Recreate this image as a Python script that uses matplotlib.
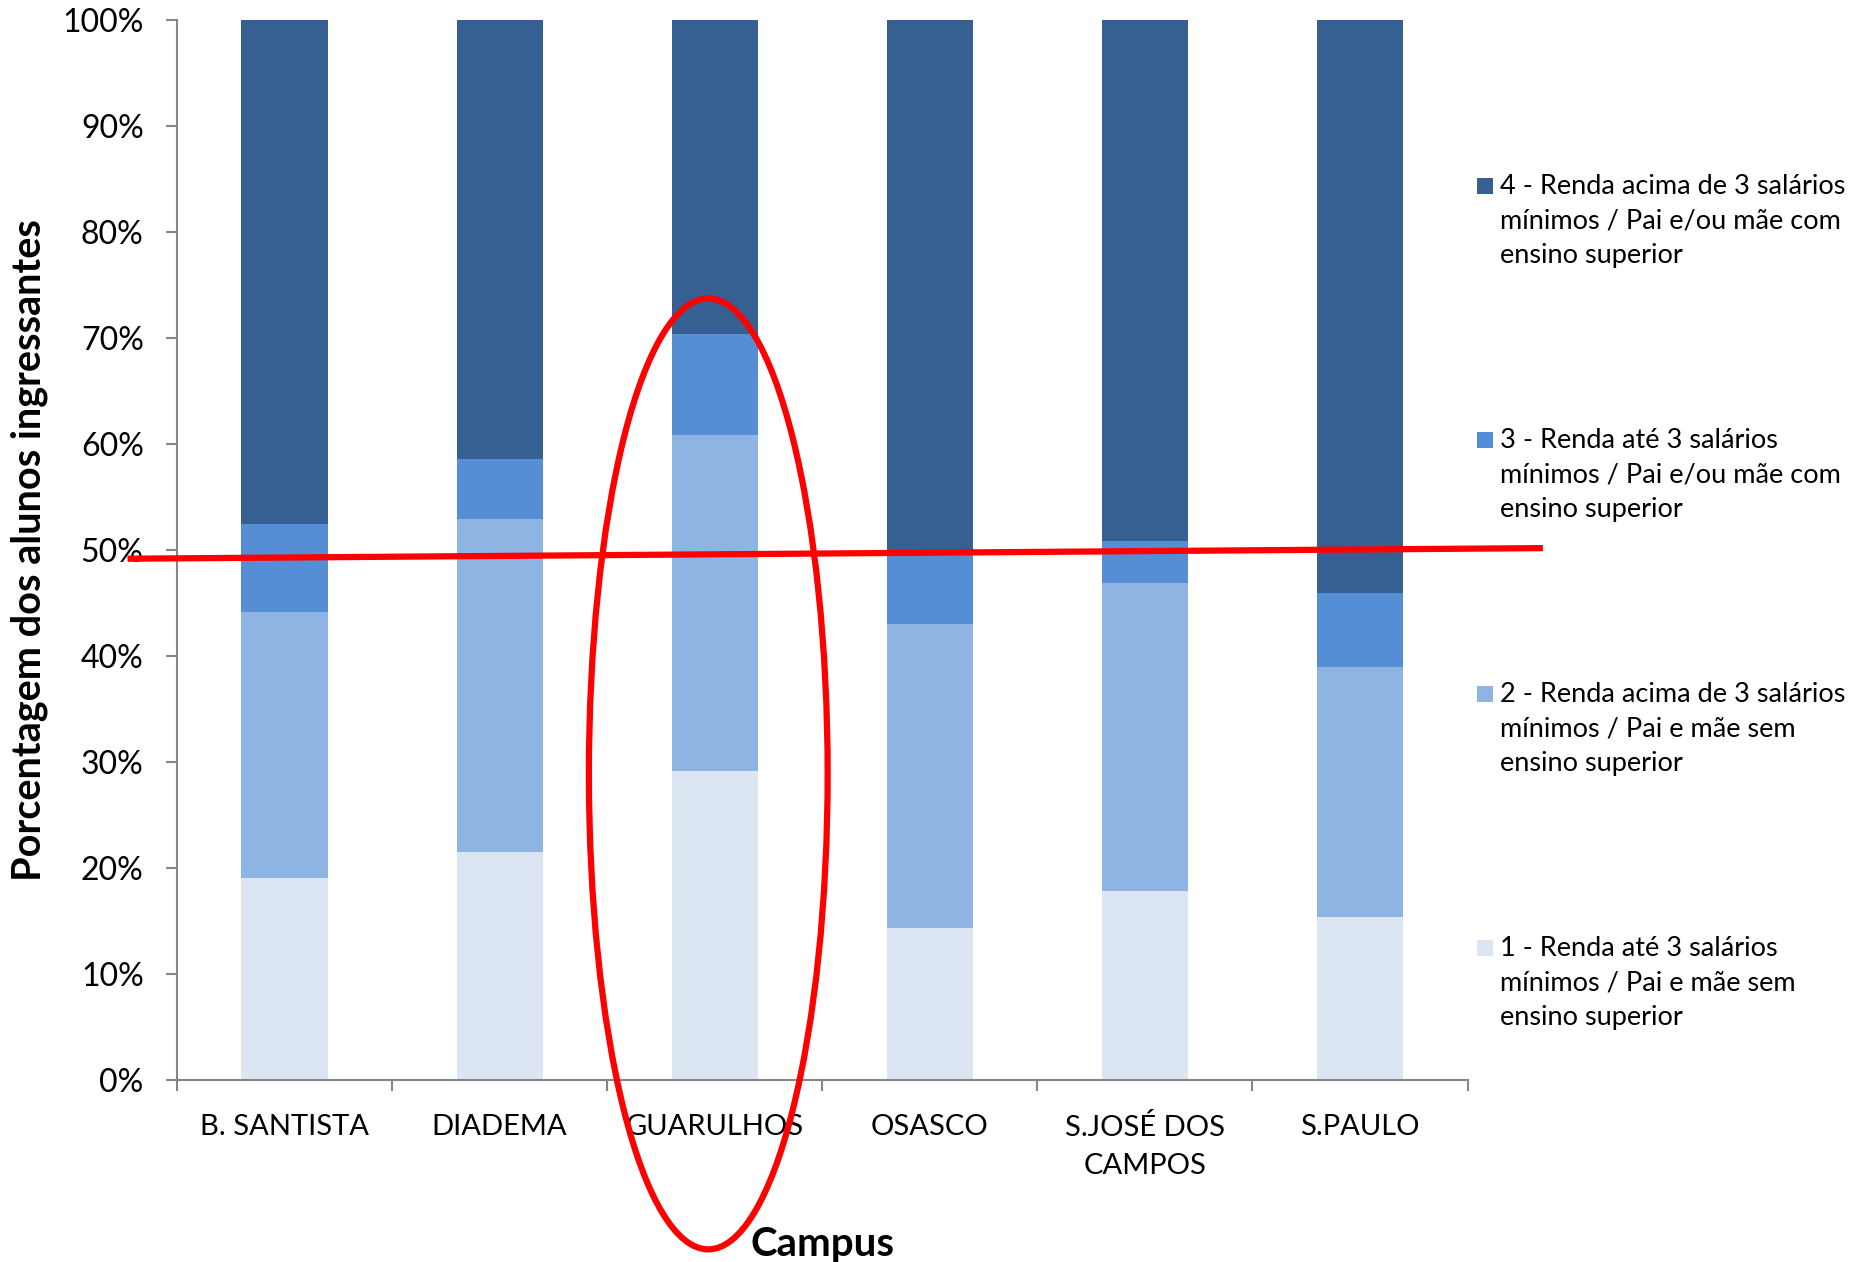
import matplotlib.pyplot as plt
from matplotlib.patches import Ellipse, Rectangle
from matplotlib.ticker import FuncFormatter, FixedLocator
import numpy as np

plt.rcParams['font.family'] = ['Lato', 'DejaVu Sans']

# dados (%, por faixa)
campus = ['B. SANTISTA', 'DIADEMA', 'GUARULHOS', 'OSASCO', 'S.JOSÉ DOS\nCAMPOS', 'S.PAULO']
faixa1 = [19.1, 21.5, 29.2, 14.4, 17.9, 15.4]
faixa2 = [25.1, 31.4, 31.7, 28.6, 29.0, 23.6]
faixa3 = [8.3, 5.7, 9.5, 6.8, 4.0, 7.0]
faixa4 = [47.5, 41.4, 29.6, 50.2, 49.1, 54.0]

legendas = ['1 - Renda até 3 salários\nmínimos / Pai e mãe sem\nensino superior',
            '2 - Renda acima de 3 salários\nmínimos / Pai e mãe sem\nensino superior',
            '3 - Renda até 3 salários\nmínimos / Pai e/ou mãe com\nensino superior',
            '4 - Renda acima de 3 salários\nmínimos / Pai e/ou mãe com\nensino superior']
cores = ['#DCE6F2', '#8EB4E3', '#558ED5', '#376092']

W, H = 1853, 1262
fig = plt.figure(figsize=(W / 100, H / 100), dpi=100)
ax = fig.add_axes([0.0955, 0.144, 0.6965, 0.840])

x = np.arange(len(campus))
base = np.zeros(len(campus))
for serie, cor in zip([faixa1, faixa2, faixa3, faixa4], cores):
    ax.bar(x, serie, bottom=base, width=0.4, color=cor, edgecolor='none')
    base += np.array(serie)

ax.set_xlim(-0.5, 5.5)
ax.set_ylim(0, 100)
ax.set_yticks(np.arange(0, 101, 10))
ax.yaxis.set_major_formatter(FuncFormatter(lambda v, p: '%d%%' % v))
ax.set_xticks(x)
ax.set_xticklabels(campus, linespacing=1.6)
ax.xaxis.set_minor_locator(FixedLocator(np.arange(-0.5, 6, 1)))

for s in ['top', 'right']:
    ax.spines[s].set_visible(False)
for s in ['left', 'bottom']:
    ax.spines[s].set_color('#868686')
    ax.spines[s].set_linewidth(1.5)

ax.tick_params(axis='y', direction='out', length=8, width=1.5, color='#868686',
               labelsize=23, pad=16)
ax.tick_params(axis='x', which='major', length=0, labelsize=21, pad=24)
ax.tick_params(axis='x', which='minor', direction='out', length=8, width=1.5, color='#868686')

ax.set_ylabel('Porcentagem dos alunos ingressantes', fontsize=28.5, fontweight='bold', labelpad=10)
ax.set_xlabel('Campus', fontsize=29, fontweight='bold', labelpad=34)

# legenda desenhada à mão (ordem invertida, espaçada como no original)
y_itens = [186, 440, 694, 948]  # px a partir do topo, primeira linha de cada item
for i, (txt, cor) in enumerate(zip(legendas[::-1], cores[::-1])):
    yc = y_itens[i]
    fig.patches.append(Rectangle((1477 / W, 1 - (yc + 8) / H), 16 / W, 16 / H,
                                 transform=fig.transFigure, facecolor=cor,
                                 edgecolor='none'))
    fig.text(1500 / W, 1 - (yc - 12) / H, txt, fontsize=19.5, va='top', ha='left',
             linespacing=1.48)

# marcação em vermelho
ell = Ellipse((1.97, 28.9), 1.11, 89.7, fill=False, edgecolor='#FF0000', linewidth=4.5,
              clip_on=False, zorder=5)
ax.add_patch(ell)
ax.plot([-0.73, 5.85], [49.2, 50.2], color='#FF0000', linewidth=4.5, clip_on=False,
        solid_capstyle='butt', zorder=5)

fig.savefig('out.png', dpi=100)
